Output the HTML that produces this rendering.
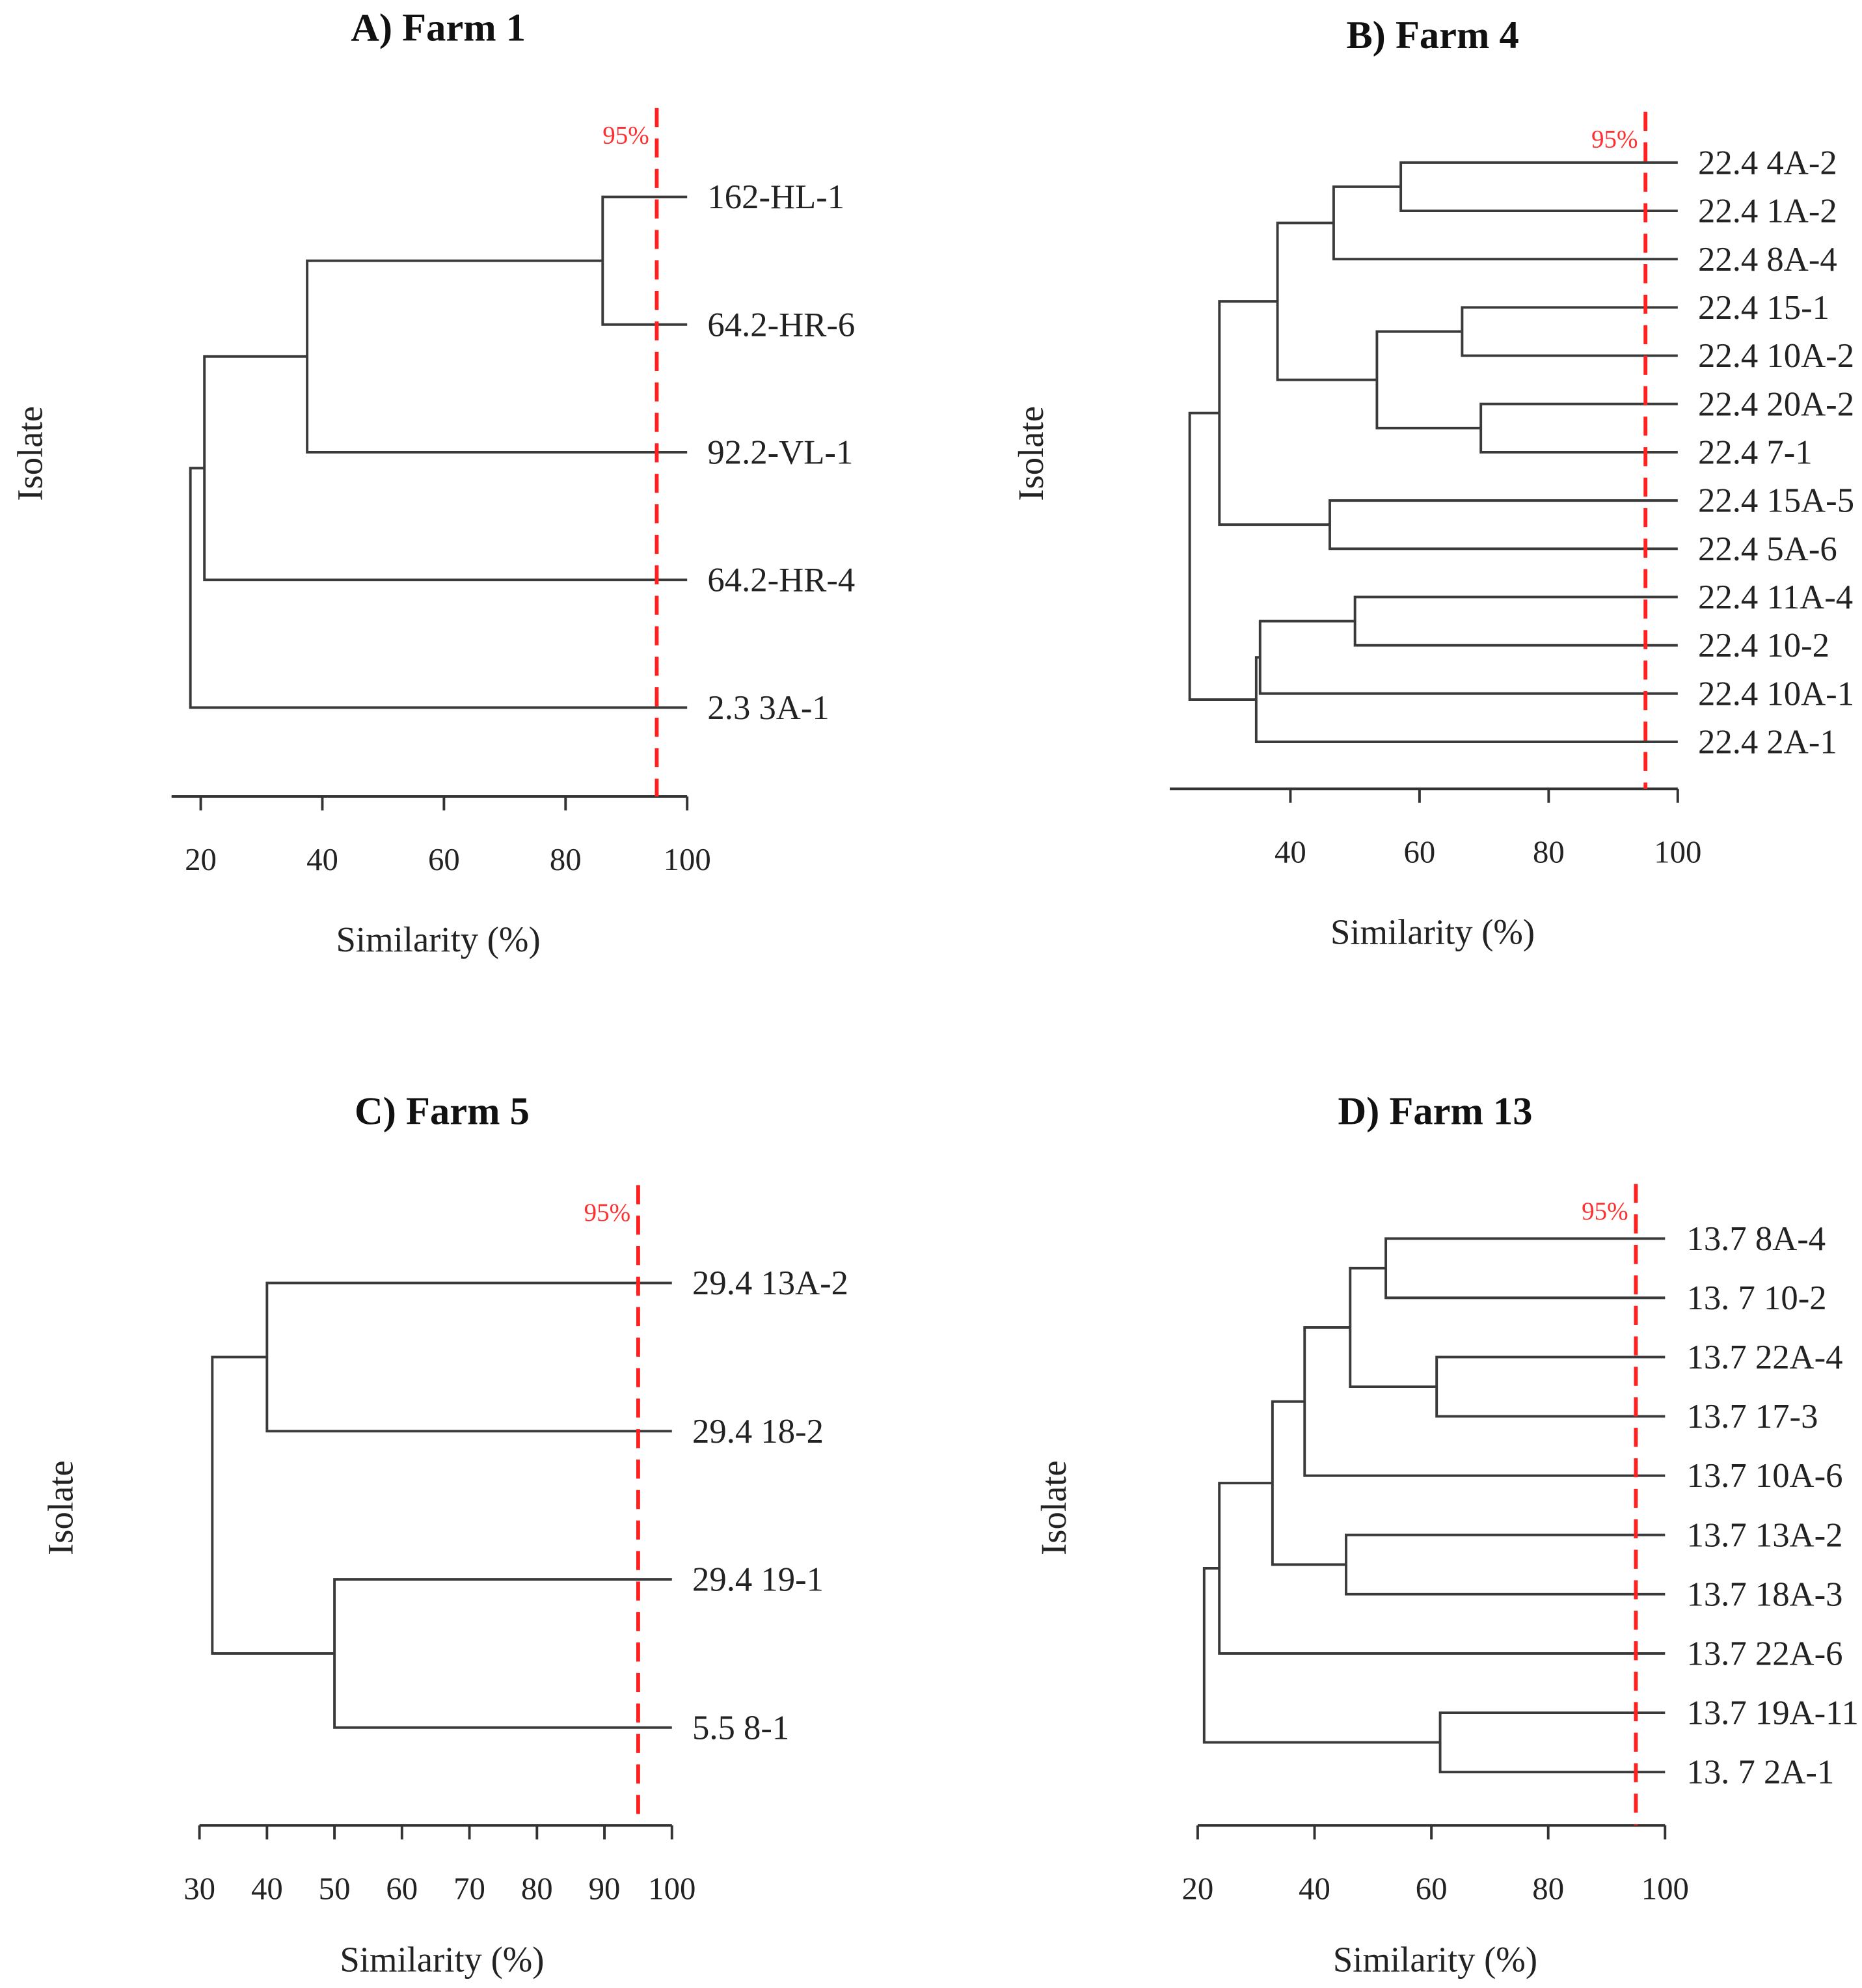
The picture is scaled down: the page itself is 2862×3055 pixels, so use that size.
<!DOCTYPE html>
<html><head><meta charset="utf-8"><style>
html,body{margin:0;padding:0;background:#fff;}
svg{display:block;}
text{font-family:"Liberation Serif",serif;}
</style></head><body>
<svg id="chart" width="2862" height="3055" viewBox="0 0 1466 1565" xmlns="http://www.w3.org/2000/svg"></svg>
<script>
// Panel A
const labelsA = ["162-HL-1","64.2-HR-6","92.2-VL-1","64.2-HR-4","2.3 3A-1"];
const mergesA = [[0,1,86.1],[5,2,37.5],[6,3,20.6],[7,4,18.3]];
const ticksA = [20,40,60,80,100];
// Panel B
const labelsB = ["22.4 4A-2","22.4 1A-2","22.4 8A-4","22.4 15-1","22.4 10A-2","22.4 20A-2","22.4 7-1","22.4 15A-5","22.4 5A-6","22.4 11A-4","22.4 10-2","22.4 10A-1","22.4 2A-1"];
const mergesB = [[0,1,57.1],[13,2,46.7],[3,4,66.6],[5,6,69.5],[15,16,53.4],[14,17,38.0],[7,8,46.1],[18,19,29.0],[9,10,50.0],[21,11,35.3],[22,12,34.7],[20,23,24.4]];
const ticksB = [40,60,80,100];
// Panel C
const labelsC = ["29.4 13A-2","29.4 18-2","29.4 19-1","5.5 8-1"];
const mergesC = [[0,1,40],[2,3,50],[4,5,31.9]];
const ticksC = [30,40,50,60,70,80,90,100];
// Panel D
const labelsD = ["13.7 8A-4","13. 7 10-2","13.7 22A-4","13.7 17-3","13.7 10A-6","13.7 13A-2","13.7 18A-3","13.7 22A-6","13.7 19A-11","13. 7 2A-1"];
const mergesD = [[0,1,52.2],[2,3,60.9],[10,11,46.1],[12,4,38.3],[5,6,45.4],[13,14,32.8],[15,7,23.7],[8,9,61.5],[16,17,21.1]];
const ticksD = [20,40,60,80,100];

const svg = document.getElementById('chart');
const NS = 'http://www.w3.org/2000/svg';
function mk(tag, attrs, parent){const e=document.createElementNS(NS,tag);for(const k in attrs)e.setAttribute(k,attrs[k]);(parent||svg).appendChild(e);return e;}

function panel(cfg){
  const g = mk('g',{});
  
  
  const xs = v => cfg.x0 + (v-cfg.v0)*(cfg.x1-cfg.x0)/(cfg.v1-cfg.v0);
  const n = cfg.labels.length;
  const ly = i => cfg.yTop + i*(cfg.yBot-cfg.yTop)/(n-1);
  const nodes = [];
  for(let i=0;i<n;i++) nodes.push({y:ly(i), x:cfg.x1});
  cfg.labels.forEach((lab,i)=>{
    const t = mk('text',{x:cfg.labelX,y:ly(i)+9,'font-size':27,fill:'#222'},g);
    t.textContent = lab;
    
    
  });
  cfg.merges.forEach(m=>{
    const a=nodes[m[0]], b=nodes[m[1]], x=xs(m[2]);
    const p = mk('path',{d:`M${a.x},${a.y}H${x}V${b.y}H${b.x}`,fill:'none',stroke:'#3a3a3a','stroke-width':2},g);
    
    
    nodes.push({x:x,y:(a.y+b.y)/2});
  });
  const ax = mk('line',{x1:cfg.axStart,y1:cfg.axY,x2:cfg.x1,y2:cfg.axY,stroke:'#333','stroke-width':2},g);
  
  
  cfg.ticks.forEach(v=>{
    mk('line',{x1:xs(v),y1:cfg.axY,x2:xs(v),y2:cfg.axY+11,stroke:'#333','stroke-width':2},g);
    const t = mk('text',{x:xs(v),y:cfg.axY+58,'font-size':25,'text-anchor':'middle',fill:'#222'},g);
    t.textContent = v;
    
    
  });
  const rx = xs(95);
  const rl = mk('line',{x1:rx,y1:cfg.redTop,x2:rx,y2:cfg.axY,stroke:'#ff2020','stroke-width':3,'stroke-dasharray':'15 9'},g);
  
  
  const rt = mk('text',{x:rx-6,y:cfg.redTop+28,'font-size':20,'text-anchor':'end',fill:'#ff3030'},g);
  rt.textContent = '95%';
  
  
  const tt = mk('text',{x:cfg.titleX,y:cfg.titleY,'font-size':31,'font-weight':'bold','text-anchor':'middle',fill:'#111'},g);
  tt.textContent = cfg.title;
  
  
  const xt = mk('text',{x:cfg.titleX,y:cfg.xtY,'font-size':28,'text-anchor':'middle',fill:'#222'},g);
  xt.textContent = 'Similarity (%)';
  
  
  const yt = mk('text',{x:0,y:0,'font-size':28,'text-anchor':'middle',fill:'#222',transform:`translate(${cfg.ytX},${cfg.ytY}) rotate(-90)`},g);
  yt.textContent = 'Isolate';
  
  
}

panel({id:'farm-1',title:'A) Farm 1',labels:labelsA,merges:mergesA,ticks:ticksA,v0:20,v1:100,x0:158,x1:541,yTop:155,yBot:557,labelX:557,axY:627,axStart:135,redTop:85,titleX:345,titleY:32,xtY:749,ytX:33,ytY:357});
panel({id:'farm-4',title:'B) Farm 4',labels:labelsB,merges:mergesB,ticks:ticksB,v0:40,v1:100,x0:1016,x1:1321,yTop:128,yBot:584,labelX:1337,axY:621,axStart:921,redTop:88,titleX:1128,titleY:38,xtY:743,ytX:821,ytY:357});
panel({id:'farm-5',title:'C) Farm 5',labels:labelsC,merges:mergesC,ticks:ticksC,v0:30,v1:100,x0:157,x1:529,yTop:1010,yBot:1360,labelX:545,axY:1437,axStart:157,redTop:933,titleX:348,titleY:885,xtY:1552,ytX:57,ytY:1187});
panel({id:'farm-13',title:'D) Farm 13',labels:labelsD,merges:mergesD,ticks:ticksD,v0:20,v1:100,x0:943,x1:1311,yTop:975,yBot:1395,labelX:1328,axY:1437,axStart:943,redTop:932,titleX:1130,titleY:885,xtY:1552,ytX:839,ytY:1187});
</script>
</body></html>
